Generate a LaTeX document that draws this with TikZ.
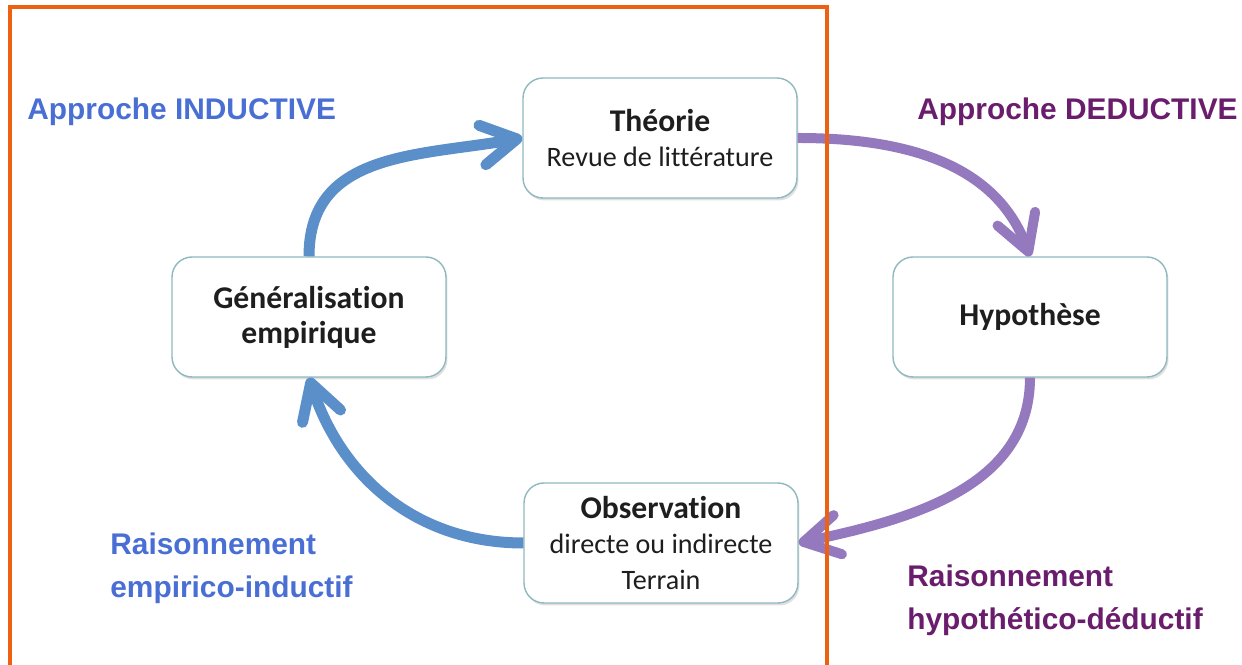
\documentclass[tikz,border=0pt]{standalone}
\usepackage{fontspec}
\setmainfont{Carlito}[Ligatures=NoCommon]
\newfontfamily\lblfont{Liberation Sans}
\usetikzlibrary{arrows.meta,shadows}
\definecolor{frame}{HTML}{EC6212}
\definecolor{indu}{HTML}{4A6FD4}
\definecolor{dedu}{HTML}{6A1D6C}
\definecolor{bluearr}{HTML}{5B8FC9}
\definecolor{purparr}{HTML}{9479BE}
\definecolor{boxline}{HTML}{8FB9C0}
\definecolor{boxtext}{HTML}{1E1E1E}
\newcommand{\titre}[1]{{\fontsize{18}{20}\selectfont\bfseries #1}}
\tikzset{
  etape/.style={draw=boxline, line width=0.8pt, fill=white, rounded corners=0.4cm,
    minimum width=5.48cm, minimum height=2.4cm, align=center, text=boxtext,
    font=\fontsize{16}{20}\selectfont,
    drop shadow={shadow xshift=0.03cm, shadow yshift=-0.05cm, fill=black!30, opacity=0.4}},
  tip/.style={-{Straight Barb[round, length=0.7cm, width=0.8cm]}},
  bflow/.style={draw=bluearr, line width=0.22cm, tip},
  pflow/.style={draw=purparr, line width=0.2cm, tip},
  lbl/.style={inner sep=0pt, align=left, font=\lblfont\fontsize{17}{24.4}\selectfont\bfseries},
  ilbl/.style={lbl, text=indu},
  dlbl/.style={lbl, text=dedu}
}
\begin{document}
\begin{tikzpicture}[x=0.02cm, y=0.02cm]
  \useasboundingbox (0,0) rectangle (1242,665);

  \node[etape] (theorie) at (660,527) {\titre{Théorie}\\Revue de littérature};
  \node[etape] (generale) at (309,348) {\titre{Généralisation}\\\titre{empirique}};
  \node[etape] (hypo) at (1030,348) {\titre{Hypothèse}};
  \node[etape] (obs) at (661,122) {\titre{Observation}\\directe ou indirecte\\Terrain};

  % cycle inductif
  \draw[bflow] (generale.north) to[out=90, in=190, looseness=1.1] (theorie.west);
  \draw[bflow] (obs.west) to[out=180, in=-72] (generale.south);
  % cycle deductif
  \draw[pflow] (theorie.east) to[out=0, in=110] (hypo.north);
  \draw[pflow] (hypo.south) to[out=-90, in=12] (obs.east);

  \node[ilbl, anchor=base west] (appind) at (27,545) {Approche INDUCTIVE};
  \node[dlbl, anchor=base west] (appded) at (917,545) {Approche DEDUCTIVE};
  \node[ilbl, anchor=north west] (raisind) at (110,132) {Raisonnement\\empirico-inductif};
  \node[dlbl, anchor=north west] (raisded) at (907,100) {Raisonnement\\hypothético-déductif};

  \draw[draw=frame, line width=2.3pt] (10,-20) -- (10,658) -- (827,658) -- (827,-20);
\end{tikzpicture}
\end{document}
